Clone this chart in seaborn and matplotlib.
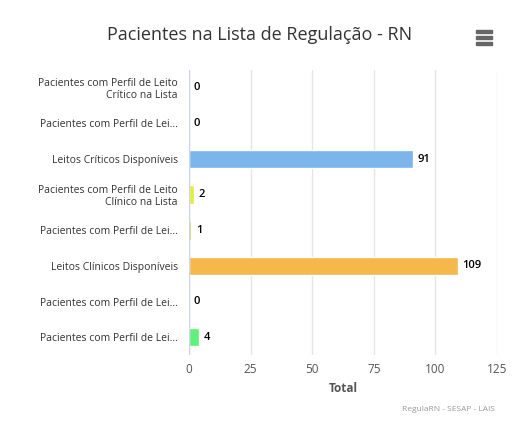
import matplotlib
matplotlib.use("Agg")
import matplotlib.pyplot as plt
import seaborn as sns
import pandas as pd

categories = ["Pacientes com Perfil de Leito\nCrítico na Lista", "Pacientes com Perfil de Lei...",
              "Leitos Críticos Disponíveis", "Pacientes com Perfil de Leito\nClínico na Lista",
              "Pacientes com Perfil de Lei...", "Leitos Clínicos Disponíveis",
              "Pacientes com Perfil de Lei...", "Pacientes com Perfil de Lei..."]
values = [0, 0, 91, 2, 1, 109, 0, 4]
colors = ["#7cb5ec", "#7cb5ec", "#7cb5ec", "#e4ec3c", "#c8c830", "#f7b84b", "#5ef07a", "#5ef07a"]
xticks = [0, 25, 50, 75, 100, 125]

sns.set_style("white")
plt.rcParams['font.family'] = ['Open Sans', 'DejaVu Sans']
fig = plt.figure(figsize=(5.28, 4.4), dpi=100)
ax = fig.add_axes([189/528, 1-355/440, (497-189)/528, (355-70)/440])
df = pd.DataFrame({"cat": [str(i) for i in range(len(values))], "val": values})
sns.barplot(data=df, y="cat", x="val", hue="cat", palette=colors, legend=False, ax=ax,
            width=0.52, orient="h", saturation=1)
ax.set_yticks(range(len(categories)))
ax.set_yticklabels(categories, fontsize=7.5, color="#333333", linespacing=1.1)
ax.set_ylabel("")
ax.set_xlim(0, 125)
ax.set_xticks(xticks)
ax.tick_params(axis='x', labelsize=8.5, colors="#555555", length=0, pad=6)
ax.tick_params(axis='y', length=0, pad=8)
ax.grid(axis='x', color="#e6e6e6", lw=1)
ax.set_axisbelow(True)
for s in ax.spines.values():
    s.set_visible(False)
ax.axvline(0, color="#ccd6eb", lw=1)
ax.set_xlabel("Total", fontsize=8.5, color="#555555", fontweight="bold")
for i, v in enumerate(values):
    ax.text(v + 1.8, i, str(v), va="center", ha="left", fontsize=8, fontweight="semibold", color="#000000")
fig.text(260/528, 1-35/440, "Pacientes na Lista de Regulação - RN", ha="center", va="center", fontsize=13, color="#333333")
for yy in [32, 38, 44]:
    fig.patches.append(plt.Rectangle((476/528, 1-(yy+1.5)/440), 16/528, 3/440, transform=fig.transFigure, color="#666666"))
fig.text(495/528, 1-409/440, "RegulaRN - SESAP - LAIS", ha="right", va="center", fontsize=6, color="#999999")
fig.savefig("out.png", dpi=100)
